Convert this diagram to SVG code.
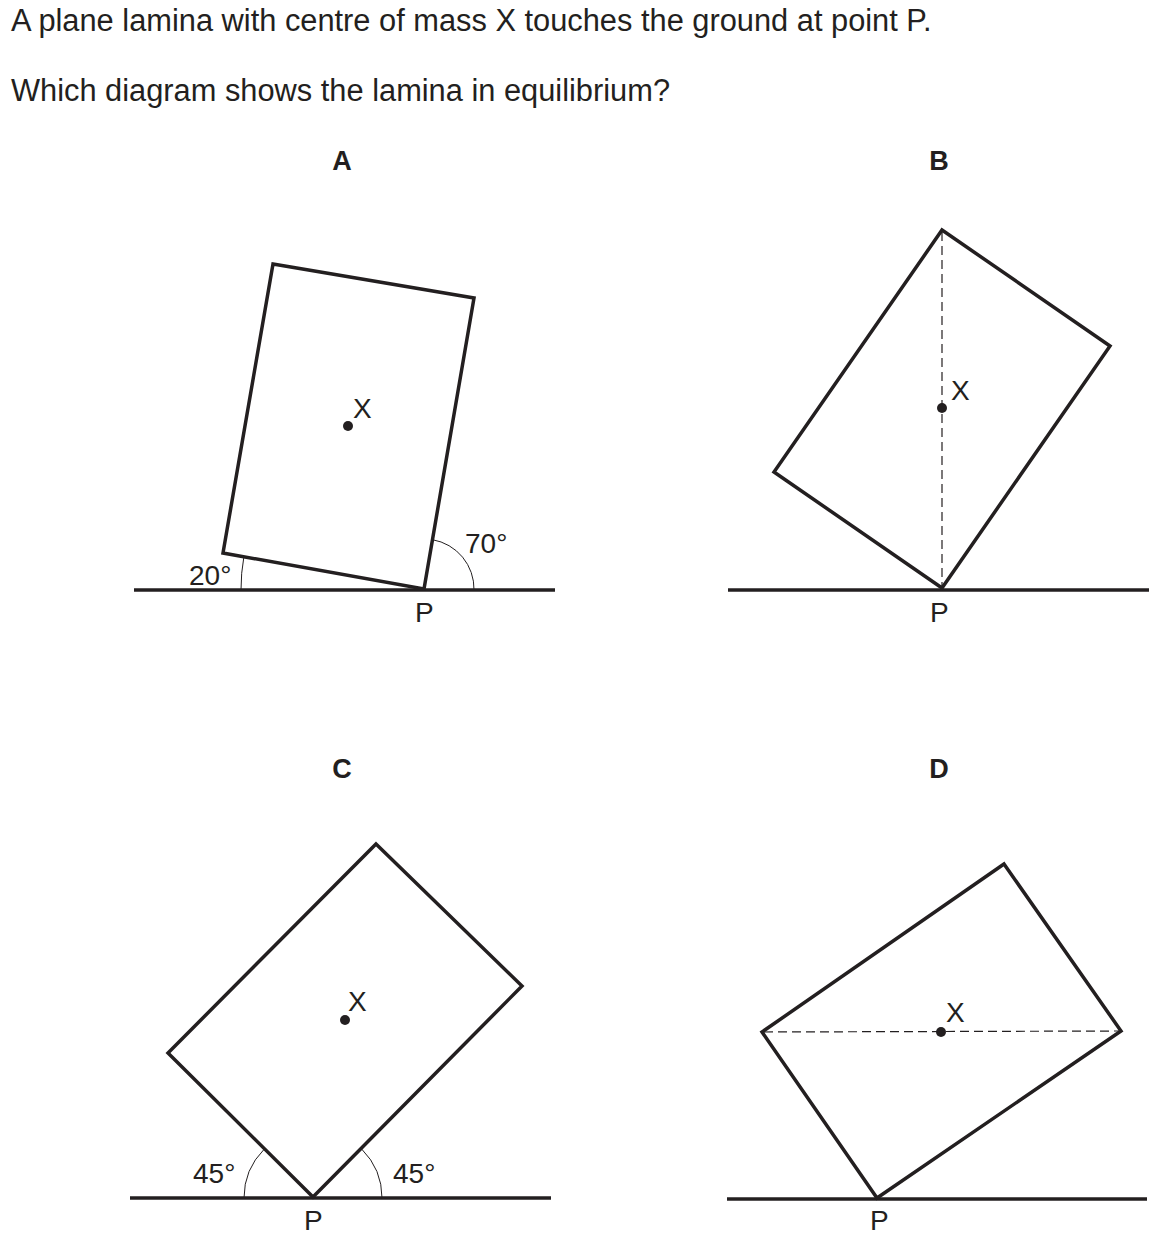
<svg xmlns="http://www.w3.org/2000/svg" width="1170" height="1246" viewBox="0 0 1170 1246">
<style>
text{font-family:"Liberation Sans",Arial,sans-serif;fill:#231f20}
.t{font-size:30.8px}
.lbl{font-size:28px}
.hd{font-size:27px;font-weight:bold;text-anchor:middle}
.shape{fill:none;stroke:#231f20;stroke-width:3.5;stroke-linejoin:miter}
.ground{stroke:#231f20;stroke-width:3.5}
.dash{stroke:#231f20;stroke-width:1.2;stroke-dasharray:9 5;fill:none}
.arc{fill:none;stroke:#231f20;stroke-width:1}
.dot{fill:#231f20}
</style>
<rect width="1170" height="1246" fill="#fff"/>
<text class="t" x="11" y="31">A plane lamina with centre of mass X touches the ground at point P.</text>
<text class="t" x="11" y="101">Which diagram shows the lamina in equilibrium?</text>

<g id="A">
<text class="hd" x="342" y="170">A</text>
<line class="ground" x1="134" y1="590" x2="555" y2="590"/>
<polygon class="shape" points="273,264 474,298 424,589 223,553"/>
<circle class="dot" cx="348" cy="426" r="5"/>
<text class="lbl" x="353" y="418">X</text>
<path class="arc" d="M241,590 A183,183 0 0 1 243.9,556.7"/>
<path class="arc" d="M474,590 A50,50 0 0 0 432.5,539.7"/>
<text class="lbl" x="189" y="585">20°</text>
<text class="lbl" x="465" y="553">70°</text>
<text class="lbl" x="415" y="622">P</text>
</g>

<g id="B">
<text class="hd" x="939" y="170">B</text>
<line class="ground" x1="728" y1="590" x2="1149" y2="590"/>
<line class="dash" x1="942" y1="232" x2="942" y2="588"/>
<polygon class="shape" points="942,230 1110,346 942,588 774,472"/>
<circle class="dot" cx="942" cy="408" r="5"/>
<text class="lbl" x="951" y="400">X</text>
<text class="lbl" x="930" y="622">P</text>
</g>

<g id="C">
<text class="hd" x="342" y="778">C</text>
<line class="ground" x1="130" y1="1198" x2="551" y2="1198"/>
<polygon class="shape" points="376,844 522,986 313,1197 168,1053"/>
<circle class="dot" cx="345" cy="1020" r="5"/>
<text class="lbl" x="348" y="1011">X</text>
<path class="arc" d="M244,1198 A69,69 0 0 1 264.2,1149.2"/>
<path class="arc" d="M382,1198 A69,69 0 0 0 361.8,1149.2"/>
<text class="lbl" x="193" y="1183">45°</text>
<text class="lbl" x="393" y="1183">45°</text>
<text class="lbl" x="304" y="1230">P</text>
</g>

<g id="D">
<text class="hd" x="939" y="778">D</text>
<line class="ground" x1="727" y1="1199" x2="1147" y2="1199"/>
<line class="dash" x1="764" y1="1032" x2="1119" y2="1031"/>
<polygon class="shape" points="1004,864 1121,1031 877,1198 762,1032"/>
<circle class="dot" cx="941" cy="1032" r="5"/>
<text class="lbl" x="946" y="1022">X</text>
<text class="lbl" x="870" y="1230">P</text>
</g>

<g id="connectors"></g>
</svg>
